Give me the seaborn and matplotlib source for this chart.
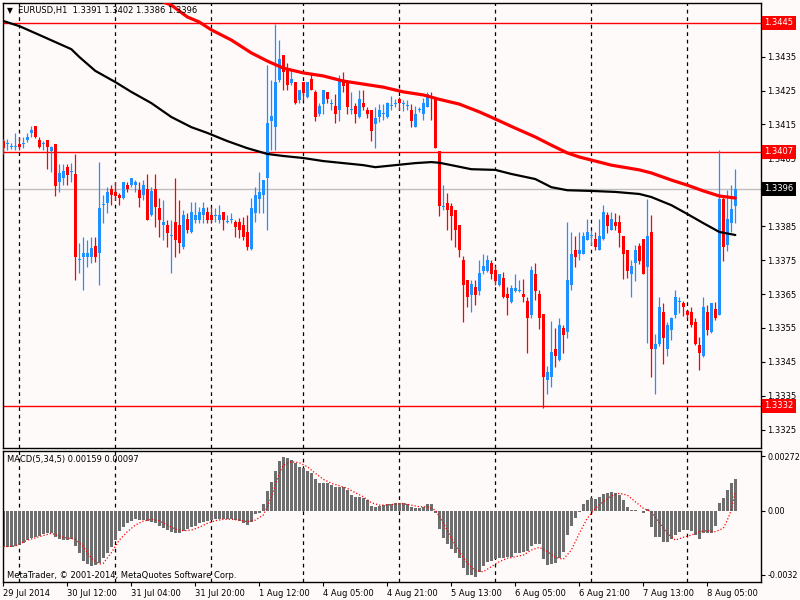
import numpy as np
import pandas as pd
import matplotlib
matplotlib.use("Agg")
import matplotlib.pyplot as plt
import matplotlib.transforms as mtransforms
import seaborn as sns

# EURUSD H1 candles, 29 Jul 2014 20:00 .. 8 Aug 2014 12:00
opens = [
    1.34102, 1.34092, 1.34084, 1.34083, 1.34092, 1.34092, 1.34104, 1.34124, 1.34145, 1.34104,
    1.34092, 1.34104, 1.34073, 1.34092, 1.33981, 1.33991, 1.34024, 1.34010, 1.34004, 1.33750,
    1.33760, 1.33760, 1.33760, 1.33792, 1.33770, 1.33911, 1.33919, 1.33961, 1.33952, 1.33942,
    1.33932, 1.33971, 1.33971, 1.33971, 1.33957, 1.33942, 1.33961, 1.33883, 1.33961, 1.33903,
    1.33853, 1.33853, 1.33821, 1.33863, 1.33853, 1.33789, 1.33870, 1.33834, 1.33868, 1.33868,
    1.33883, 1.33891, 1.33883, 1.33880, 1.33868, 1.33891, 1.33863, 1.33868, 1.33863, 1.33863,
    1.33853, 1.33834, 1.33782, 1.33890, 1.33929, 1.33942, 1.33991, 1.34161, 1.34143, 1.34281,
    1.34354, 1.34315, 1.34273, 1.34276, 1.34222, 1.34276, 1.34231, 1.34285, 1.34246, 1.34182,
    1.34210, 1.34246, 1.34209, 1.34204, 1.34194, 1.34281, 1.34279, 1.34193, 1.34204, 1.34172,
    1.34212, 1.34194, 1.34194, 1.34151, 1.34172, 1.34182, 1.34172, 1.34203, 1.34209, 1.34224,
    1.34209, 1.34203, 1.34194, 1.34143, 1.34193, 1.34182, 1.34202, 1.34233, 1.34229, 1.34072,
    1.33906, 1.33919, 1.33909, 1.33897, 1.33853, 1.33750, 1.33691, 1.33646, 1.33671, 1.33659,
    1.33718, 1.33718, 1.33742, 1.33720, 1.33676, 1.33698, 1.33649, 1.33627, 1.33659, 1.33660,
    1.33649, 1.33630, 1.33587, 1.33710, 1.33649, 1.33590, 1.33396, 1.33406, 1.33489, 1.33455,
    1.33550, 1.33538, 1.33676, 1.33781, 1.33767, 1.33769, 1.33809, 1.33820, 1.33811, 1.33781,
    1.33811, 1.33882, 1.33840, 1.33863, 1.33863, 1.33820, 1.33781, 1.33710, 1.33740, 1.33791,
    1.33813, 1.33730, 1.33833, 1.33489, 1.33504, 1.33597, 1.33489, 1.33543, 1.33587, 1.33626,
    1.33622, 1.33599, 1.33597, 1.33568, 1.33499, 1.33467, 1.33597, 1.33538, 1.33607, 1.33587,
    1.33931, 1.33794, 1.33860, 1.33910,
]
highs = [
    1.34106, 1.34106, 1.34094, 1.34124, 1.34114, 1.34114, 1.34126, 1.34145, 1.34145, 1.34114,
    1.34102, 1.34104, 1.34085, 1.34092, 1.34033, 1.34033, 1.34033, 1.34035, 1.34063, 1.33799,
    1.33819, 1.33809, 1.33819, 1.33819, 1.34040, 1.33942, 1.33965, 1.33971, 1.33981, 1.33949,
    1.33981, 1.33981, 1.33991, 1.33986, 1.33981, 1.33986, 1.34004, 1.33965, 1.34004, 1.33932,
    1.33927, 1.33868, 1.33868, 1.33991, 1.33927, 1.33898, 1.33888, 1.33922, 1.33922, 1.33907,
    1.33922, 1.33907, 1.33907, 1.33903, 1.33913, 1.33891, 1.33883, 1.33890, 1.33868, 1.33873,
    1.33878, 1.33883, 1.33932, 1.33966, 1.34011, 1.33986, 1.34325, 1.34280, 1.34446, 1.34399,
    1.34354, 1.34330, 1.34310, 1.34276, 1.34253, 1.34276, 1.34276, 1.34300, 1.34251, 1.34214,
    1.34253, 1.34246, 1.34224, 1.34239, 1.34295, 1.34305, 1.34279, 1.34246, 1.34212, 1.34251,
    1.34251, 1.34202, 1.34194, 1.34202, 1.34210, 1.34210, 1.34217, 1.34233, 1.34224, 1.34230,
    1.34222, 1.34222, 1.34210, 1.34204, 1.34202, 1.34229, 1.34246, 1.34246, 1.34229, 1.34072,
    1.33971, 1.33948, 1.33919, 1.33897, 1.33853, 1.33761, 1.33691, 1.33691, 1.33691, 1.33750,
    1.33769, 1.33764, 1.33750, 1.33732, 1.33710, 1.33715, 1.33671, 1.33676, 1.33710, 1.33691,
    1.33693, 1.33640, 1.33732, 1.33742, 1.33661, 1.33590, 1.33437, 1.33570, 1.33550, 1.33578,
    1.33558, 1.33863, 1.33833, 1.33820, 1.33833, 1.33833, 1.33870, 1.33838, 1.33833, 1.33872,
    1.33912, 1.33892, 1.33892, 1.33889, 1.33882, 1.33820, 1.33781, 1.33750, 1.33794, 1.33799,
    1.33813, 1.33931, 1.33882, 1.33533, 1.33641, 1.33624, 1.33568, 1.33582, 1.33661, 1.33641,
    1.33630, 1.33602, 1.33612, 1.33578, 1.33523, 1.33641, 1.33617, 1.33624, 1.33627, 1.34074,
    1.33936, 1.33956, 1.33971, 1.34020,
]
lows = [
    1.34063, 1.34075, 1.34077, 1.34075, 1.34075, 1.34080, 1.34099, 1.34114, 1.34109, 1.34080,
    1.34075, 1.34020, 1.34011, 1.33939, 1.33952, 1.33971, 1.33971, 1.33981, 1.33690, 1.33711,
    1.33662, 1.33730, 1.33740, 1.33745, 1.33676, 1.33860, 1.33888, 1.33913, 1.33927, 1.33913,
    1.33929, 1.33952, 1.33965, 1.33952, 1.33907, 1.33927, 1.33868, 1.33880, 1.33848, 1.33819,
    1.33809, 1.33789, 1.33711, 1.33760, 1.33770, 1.33784, 1.33829, 1.33829, 1.33860, 1.33860,
    1.33860, 1.33860, 1.33863, 1.33863, 1.33858, 1.33839, 1.33858, 1.33858, 1.33819, 1.33814,
    1.33809, 1.33780, 1.33780, 1.33863, 1.33888, 1.33888, 1.33838, 1.34074, 1.34074, 1.34276,
    1.34251, 1.34251, 1.34266, 1.34210, 1.34212, 1.34222, 1.34229, 1.34251, 1.34161, 1.34174,
    1.34182, 1.34212, 1.34192, 1.34153, 1.34161, 1.34246, 1.34180, 1.34180, 1.34153, 1.34170,
    1.34192, 1.34168, 1.34102, 1.34082, 1.34158, 1.34163, 1.34170, 1.34192, 1.34202, 1.34194,
    1.34190, 1.34192, 1.34143, 1.34143, 1.34187, 1.34163, 1.34202, 1.34163, 1.34082, 1.33880,
    1.33899, 1.33838, 1.33809, 1.33789, 1.33759, 1.33568, 1.33612, 1.33597, 1.33617, 1.33646,
    1.33710, 1.33715, 1.33695, 1.33676, 1.33673, 1.33637, 1.33587, 1.33624, 1.33656, 1.33656,
    1.33627, 1.33476, 1.33578, 1.33632, 1.33548, 1.33315, 1.33356, 1.33376, 1.33435, 1.33453,
    1.33476, 1.33519, 1.33661, 1.33730, 1.33750, 1.33769, 1.33809, 1.33794, 1.33779, 1.33779,
    1.33809, 1.33830, 1.33838, 1.33840, 1.33789, 1.33695, 1.33698, 1.33640, 1.33689, 1.33738,
    1.33708, 1.33506, 1.33406, 1.33356, 1.33496, 1.33445, 1.33467, 1.33514, 1.33578, 1.33594,
    1.33584, 1.33578, 1.33553, 1.33499, 1.33425, 1.33464, 1.33528, 1.33535, 1.33573, 1.33587,
    1.33748, 1.33777, 1.33833, 1.33860,
]
closes = [
    1.34080, 1.34095, 1.34086, 1.34086, 1.34083, 1.34095, 1.34114, 1.34134, 1.34112, 1.34083,
    1.34095, 1.34083, 1.34083, 1.33968, 1.34006, 1.34014, 1.34001, 1.34013, 1.33760, 1.33753,
    1.33770, 1.33770, 1.33785, 1.33760, 1.33903, 1.33915, 1.33952, 1.33942, 1.33939, 1.33932,
    1.33981, 1.33961, 1.33991, 1.33981, 1.33932, 1.33971, 1.33868, 1.33955, 1.33907, 1.33868,
    1.33863, 1.33829, 1.33824, 1.33809, 1.33799, 1.33883, 1.33839, 1.33893, 1.33883, 1.33893,
    1.33903, 1.33868, 1.33868, 1.33883, 1.33883, 1.33868, 1.33866, 1.33871, 1.33849, 1.33839,
    1.33819, 1.33789, 1.33903, 1.33942, 1.33952, 1.33986, 1.34153, 1.34174, 1.34276, 1.34344,
    1.34305, 1.34266, 1.34283, 1.34212, 1.34253, 1.34243, 1.34276, 1.34251, 1.34172, 1.34204,
    1.34253, 1.34224, 1.34211, 1.34180, 1.34285, 1.34263, 1.34202, 1.34195, 1.34180, 1.34224,
    1.34200, 1.34180, 1.34131, 1.34170, 1.34194, 1.34184, 1.34212, 1.34205, 1.34211, 1.34212,
    1.34211, 1.34205, 1.34161, 1.34182, 1.34195, 1.34212, 1.34241, 1.34227, 1.34082, 1.33909,
    1.33909, 1.33899, 1.33880, 1.33838, 1.33779, 1.33676, 1.33640, 1.33679, 1.33646, 1.33712,
    1.33732, 1.33750, 1.33710, 1.33689, 1.33710, 1.33640, 1.33637, 1.33669, 1.33669, 1.33662,
    1.33640, 1.33578, 1.33720, 1.33659, 1.33578, 1.33406, 1.33420, 1.33478, 1.33466, 1.33558,
    1.33528, 1.33691, 1.33769, 1.33759, 1.33781, 1.33820, 1.33833, 1.33822, 1.33789, 1.33820,
    1.33892, 1.33850, 1.33870, 1.33850, 1.33830, 1.33767, 1.33718, 1.33732, 1.33781, 1.33748,
    1.33710, 1.33820, 1.33489, 1.33504, 1.33612, 1.33519, 1.33558, 1.33578, 1.33641, 1.33628,
    1.33612, 1.33587, 1.33558, 1.33504, 1.33476, 1.33612, 1.33545, 1.33622, 1.33578, 1.33931,
    1.33789, 1.33870, 1.33902, 1.33960,
]

# moving averages, read at sample bars
red_ma_bar = [40, 42, 46, 49, 52, 57, 62, 66, 70, 75, 80, 85, 90, 95, 100, 105, 109,
              114, 119, 123, 128, 133, 137, 141, 144, 147, 152, 159, 162, 167, 171, 175, 179, 183]
red_ma = [1.34511, 1.34502, 1.34467, 1.34452, 1.34429, 1.34399, 1.34361, 1.34337, 1.34316,
          1.34302, 1.34293, 1.34278, 1.34269, 1.34260, 1.34246, 1.34237, 1.34224, 1.34210,
          1.34187, 1.34166, 1.34139, 1.34113, 1.34089, 1.34066, 1.34054, 1.34045, 1.34030,
          1.34016, 1.34007, 1.33986, 1.33971, 1.33954, 1.33939, 1.33933]
black_ma_bar = [0, 4, 9, 17, 19, 23, 28, 32, 37, 42, 47, 51, 56, 61, 66, 70, 75, 80, 85, 90,
                93, 98, 103, 107, 109, 112, 117, 123, 127, 133, 137, 141, 147, 153, 159, 162,
                167, 171, 175, 179, 183]
black_ma = [1.34455, 1.34440, 1.34414, 1.34372, 1.34349, 1.34308, 1.34275, 1.34246, 1.34213,
            1.34172, 1.34142, 1.34125, 1.34101, 1.34080, 1.34063, 1.34057, 1.34051, 1.34042,
            1.34036, 1.34030, 1.34024, 1.34030, 1.34036, 1.34039, 1.34037, 1.34030, 1.34018,
            1.34016, 1.34004, 1.33989, 1.33965, 1.33956, 1.33954, 1.33951, 1.33945, 1.33936,
            1.33912, 1.33886, 1.33859, 1.33833, 1.33824]

# MACD(5,34,5) histogram, in units of 1e-5
macd_e5 = [
    -183, -183, -183, -177, -172, -160, -147, -135, -130, -125,
    -118, -113, -113, -130, -143, -147, -147, -143, -177, -213,
    -250, -267, -277, -273, -263, -238, -213, -183, -147, -100,
    -80, -63, -50, -43, -47, -47, -50, -55, -63, -77,
    -88, -97, -105, -113, -110, -100, -93, -83, -77, -63,
    -55, -50, -47, -43, -43, -43, -43, -43, -47, -53,
    -60, -72, -55, -17, -10, 33, 100, 145, 200, 250,
    270, 262, 253, 237, 220, 212, 200, 187, 157, 140,
    140, 140, 128, 117, 117, 117, 103, 78, 67, 70,
    62, 53, 23, 20, 23, 28, 33, 33, 37, 40,
    37, 33, 17, 12, 12, 20, 32, 32, -10, -93,
    -138, -167, -193, -213, -238, -288, -322, -322, -330, -305,
    -277, -257, -250, -243, -238, -238, -233, -230, -210, -210,
    -205, -200, -177, -167, -167, -242, -272, -267, -260, -238,
    -205, -122, -77, -38, -5, 33, 53, 62, 57, 70,
    83, 90, 92, 90, 78, 53, 17, 3, 3, 1,
    -13, 7, -83, -130, -133, -155, -155, -143, -122, -105,
    -97, -97, -100, -122, -140, -110, -113, -110, -77, 40,
    62, 103, 140, 159,
]
signal_bar = [0, 3, 6, 9, 12, 15, 18, 20, 22, 24, 25, 27, 29, 31, 33, 35, 37, 39, 41, 43,
              45, 47, 49, 51, 53, 55, 57, 59, 61, 63, 65, 66, 67, 68, 69, 70, 72, 74, 76,
              78, 80, 82, 84, 86, 88, 90, 92, 94, 96, 98, 100, 102, 104, 106, 108, 110, 112,
              114, 116, 118, 120, 122, 124, 126, 128, 130, 132, 134, 136, 138, 140, 142,
              144, 146, 148, 150, 152, 154, 156, 158, 160, 162, 164, 166, 168, 170, 172,
              174, 176, 178, 180, 181, 182, 183]
signal_e5 = [-180, -177, -147, -130, -113, -133, -143, -180, -238, -267, -263, -210, -147,
             -105, -72, -52, -43, -50, -72, -93, -100, -97, -83, -63, -50, -43, -43, -47,
             -55, -47, -22, 20, 70, 128, 187, 228, 245, 240, 220, 187, 157, 137, 125, 112,
             90, 70, 40, 28, 28, 33, 35, 28, 20, 20, 3, -60, -138, -205, -263, -300, -305,
             -280, -255, -238, -230, -222, -197, -183, -205, -233, -243, -197, -113, -38,
             12, 45, 73, 87, 78, 45, 12, -5, -60, -113, -147, -133, -122, -105, -100, -105,
             -88, -47, 3, 97]

day_breaks = [4, 28, 52, 75, 99, 123, 147, 171]
tick_bars = [0, 16, 32, 48, 64, 80, 96, 112, 128, 144, 160, 176]
tick_labels = ["29 Jul 2014", "30 Jul 12:00", "31 Jul 04:00", "31 Jul 20:00", "1 Aug 12:00",
               "4 Aug 05:00", "4 Aug 21:00", "5 Aug 13:00", "6 Aug 05:00", "6 Aug 21:00",
               "7 Aug 13:00", "8 Aug 05:00"]
price_ticks = [1.3325, 1.3335, 1.3345, 1.3355, 1.3365, 1.3375, 1.3385, 1.3395,
               1.3405, 1.3415, 1.3425, 1.3435, 1.3445]
level_lines = [1.3445, 1.3407, 1.3332]
bid_price = 1.3396

# ---- styling
BG = '#FFFAFA'
BULL = '#1E90FF'
BEAR = '#FF0000'
sns.set_style("white", {"axes.facecolor": BG, "figure.facecolor": BG,
                        "axes.edgecolor": "black"})
plt.rcParams['font.family'] = ['DejaVu Sans']
FS = 6.0

df = pd.DataFrame({"open": opens, "high": highs, "low": lows, "close": closes})
df["bar"] = np.arange(len(df))
df["up"] = df["close"] >= df["open"]
df["color"] = np.where(df["up"], BULL, BEAR)
df["body_lo"] = df[["open", "close"]].min(axis=1)
df["body_h"] = (df["close"] - df["open"]).abs().clip(lower=0.00003)

fig = plt.figure(figsize=(8, 6), dpi=100)
W, H = 800.0, 600.0
left, right = 2.5, 761.0
ax = fig.add_axes([left / W, 1 - 448.3 / H, (right - left) / W, (448.3 - 2.7) / H])
axm = fig.add_axes([left / W, 1 - 581.7 / H, (right - left) / W, (581.7 - 451.0) / H],
                   sharex=ax)

# ---- price panel
for lvl in level_lines:
    ax.axhline(lvl, color=BEAR, lw=1.0, zorder=1)
ax.axhline(bid_price, color='#BEBEBE', lw=1.0, zorder=1)
for d in day_breaks:
    ax.axvline(d, color='black', lw=0.9, ls=(0, (3, 3)), zorder=1)

ax.vlines(df["bar"], df["low"], df["high"], colors=df["color"], lw=0.9, zorder=3)
ax.bar(df["bar"], df["body_h"], bottom=df["body_lo"], width=0.75, color=df["color"],
       linewidth=0, zorder=3)

sns.lineplot(x=black_ma_bar, y=black_ma, ax=ax, color='black', lw=1.6, zorder=4)
sns.lineplot(x=red_ma_bar, y=red_ma, ax=ax, color=BEAR, lw=2.3, zorder=4)

ax.set_xlim(-0.2, (right - 3.3) / 4.0)
ax.set_ylim(1.33195, 1.34509)
ax.yaxis.tick_right()
ax.set_yticks(price_ticks)
# labels hidden behind the level / bid boxes are left blank
covered = {1.3445, 1.3395}
ax.set_yticklabels(["" if t in covered else f"{t:.4f}" for t in price_ticks])
ax.tick_params(axis='y', direction='out', length=3, width=0.8, pad=1.5, labelsize=FS,
               colors='black', right=True)
ax.tick_params(axis='x', bottom=False, labelbottom=False)
ax.set_xlabel("")
ax.set_ylabel("")
for s in ax.spines.values():
    s.set_color('black')
    s.set_linewidth(1.0)

trans = mtransforms.blended_transform_factory(ax.transAxes, ax.transData)
for lvl in level_lines:
    ax.text(1.004, lvl, f"{lvl:.4f}", transform=trans, ha='left', va='center',
            fontsize=FS, color='white', clip_on=False, zorder=10,
            bbox=dict(boxstyle='square,pad=0.3', fc=BEAR, ec='none'))
ax.text(1.004, bid_price, f"{bid_price:.4f}", transform=trans, ha='left', va='center',
        fontsize=FS, color='white', clip_on=False, zorder=10,
        bbox=dict(boxstyle='square,pad=0.3', fc='black', ec='none'))

fig.text(7 / W, 1 - 10.5 / H, "\u25BC", fontsize=5.5, va='center', ha='left', color='black')
fig.text(18 / W, 1 - 10.5 / H,
         f"EURUSD,H1  {opens[-1]:.4f} {highs[-1]:.4f} {lows[-1]:.4f} {closes[-1]:.4f}",
         fontsize=FS, va='center', ha='left', color='black')

# ---- MACD panel
macd = np.array(macd_e5) * 1e-5
signal = np.array(signal_e5) * 1e-5
for d in day_breaks:
    axm.axvline(d, color='black', lw=0.9, ls=(0, (3, 3)), zorder=1)
axm.bar(df["bar"], macd, width=0.75, color='#6E6E6E', linewidth=0, zorder=2)
sns.lineplot(x=signal_bar, y=signal, ax=axm, color=BEAR, lw=0.9,
             linestyle=(0, (1, 1.6)), zorder=3)
axm.set_ylim(-0.00355, 0.002985)
axm.yaxis.tick_right()
axm.set_yticks([0.00272, 0.0, -0.0032])
axm.set_yticklabels(["0.00272", "0.00", "-0.0032"])
axm.tick_params(axis='y', direction='out', length=3, width=0.8, pad=1.5, labelsize=5.8,
                colors='black', right=True)
axm.set_xticks(tick_bars)
axm.set_xticklabels(tick_labels, ha='left')
axm.tick_params(axis='x', direction='out', length=3, width=0.8, pad=2, labelsize=FS,
                colors='black', bottom=True)
axm.set_xlabel("")
axm.set_ylabel("")
for s in axm.spines.values():
    s.set_color('black')
    s.set_linewidth(1.0)

fig.text(7 / W, 1 - 459.5 / H, f"MACD(5,34,5) {macd[-1]:.5f} {signal[-1]:.5f}",
         fontsize=FS, va='center', ha='left', color='black')
fig.text(7 / W, 1 - 575.5 / H, "MetaTrader, \u00A9 2001-2014, MetaQuotes Software Corp.",
         fontsize=FS, va='center', ha='left', color='black')

fig.savefig("out.png", dpi=100, facecolor=BG)
